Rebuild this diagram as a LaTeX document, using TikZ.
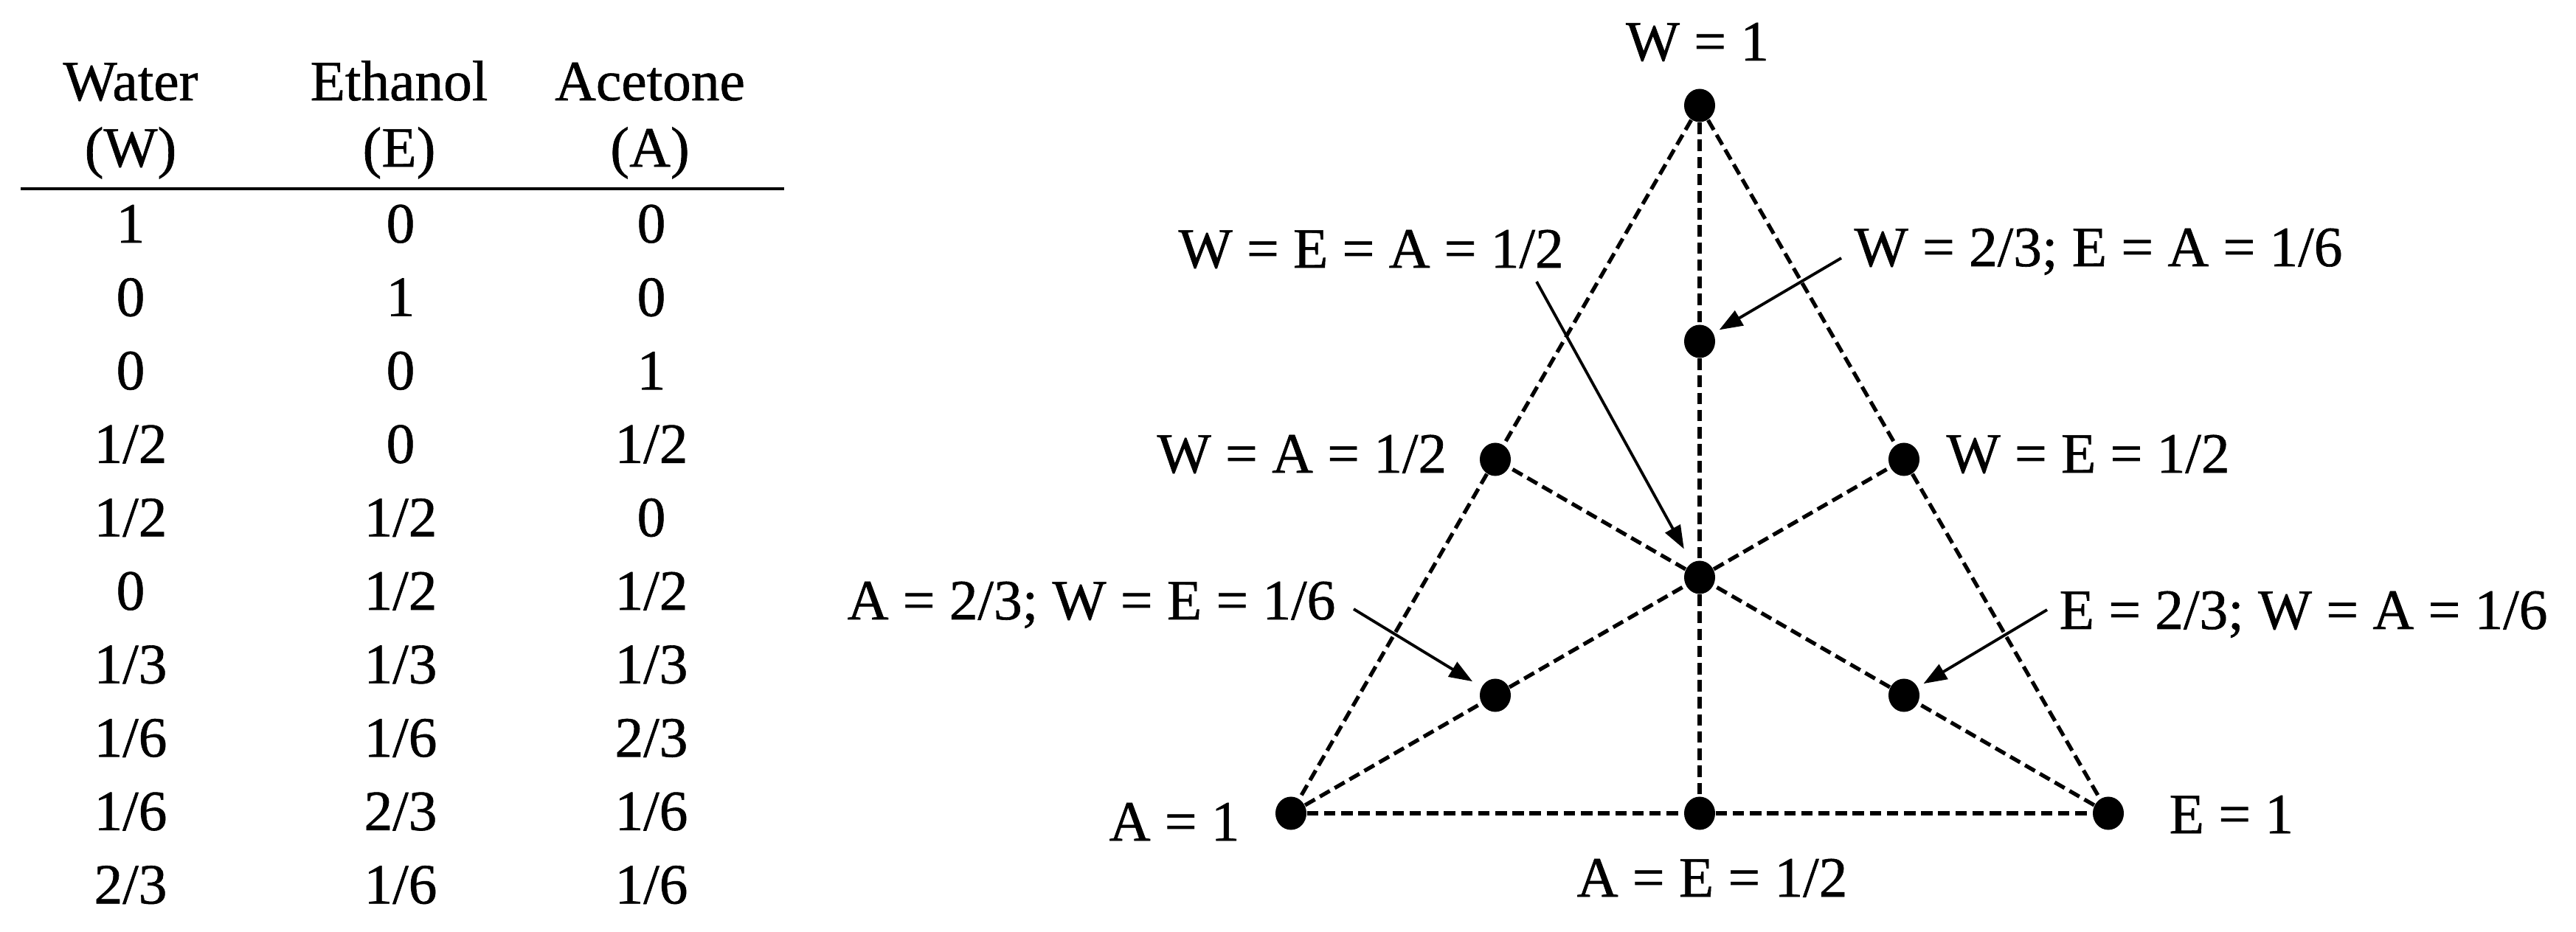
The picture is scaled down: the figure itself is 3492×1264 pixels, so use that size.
\documentclass[tikz,border=0pt]{standalone}
\usepackage{fontspec}
\setmainfont{Liberation Serif}[UprightFeatures={FakeBold=0.8}]
\usetikzlibrary{arrows.meta,shapes.geometric}
\begin{document}
\begin{tikzpicture}[x=0.01cm,y=-0.01cm,
  lbl/.style={font=\fontsize{22}{26}\selectfont, inner sep=0pt},
  dot/.style={ellipse, fill=black, inner sep=0pt, minimum width=0.42cm, minimum height=0.45cm},
  guide/.style={dash pattern=on 4.4pt off 2.2pt, line width=1.5pt},
  pointer/.style={-{Triangle[length=9pt,width=6.5pt]}, line width=1.1pt}]
\fill[white] (0,0) rectangle (3492,1264);
\useasboundingbox (0,0) rectangle (3492,1264);

% ---- table ----
\node[lbl, anchor=base] (h1a) at (177,136) {Water};
\node[lbl, anchor=base] (h1b) at (177,226) {(W)};
\node[lbl, anchor=base] (h2a) at (541,136) {Ethanol};
\node[lbl, anchor=base] (h2b) at (541,226) {(E)};
\node[lbl, anchor=base] (h3a) at (881,136) {Acetone};
\node[lbl, anchor=base] (h3b) at (881,226) {(A)};
\coordinate (ruleL) at (28,256);
\coordinate (ruleR) at (1063,256);
\draw[line width=1.3pt] (ruleL) -- (ruleR);

\node[lbl, anchor=base] (r1a) at (177,329) {1};
\node[lbl, anchor=base] (r1b) at (543,329) {0};
\node[lbl, anchor=base] (r1c) at (883,329) {0};
\node[lbl, anchor=base] (r2a) at (177,428.6) {0};
\node[lbl, anchor=base] (r2b) at (543,428.6) {1};
\node[lbl, anchor=base] (r2c) at (883,428.6) {0};
\node[lbl, anchor=base] (r3a) at (177,528.2) {0};
\node[lbl, anchor=base] (r3b) at (543,528.2) {0};
\node[lbl, anchor=base] (r3c) at (883,528.2) {1};
\node[lbl, anchor=base] (r4a) at (177,627.8) {1/2};
\node[lbl, anchor=base] (r4b) at (543,627.8) {0};
\node[lbl, anchor=base] (r4c) at (883,627.8) {1/2};
\node[lbl, anchor=base] (r5a) at (177,727.4) {1/2};
\node[lbl, anchor=base] (r5b) at (543,727.4) {1/2};
\node[lbl, anchor=base] (r5c) at (883,727.4) {0};
\node[lbl, anchor=base] (r6a) at (177,827) {0};
\node[lbl, anchor=base] (r6b) at (543,827) {1/2};
\node[lbl, anchor=base] (r6c) at (883,827) {1/2};
\node[lbl, anchor=base] (r7a) at (177,926.6) {1/3};
\node[lbl, anchor=base] (r7b) at (543,926.6) {1/3};
\node[lbl, anchor=base] (r7c) at (883,926.6) {1/3};
\node[lbl, anchor=base] (r8a) at (177,1026.2) {1/6};
\node[lbl, anchor=base] (r8b) at (543,1026.2) {1/6};
\node[lbl, anchor=base] (r8c) at (883,1026.2) {2/3};
\node[lbl, anchor=base] (r9a) at (177,1125.8) {1/6};
\node[lbl, anchor=base] (r9b) at (543,1125.8) {2/3};
\node[lbl, anchor=base] (r9c) at (883,1125.8) {1/6};
\node[lbl, anchor=base] (r10a) at (177,1225.4) {2/3};
\node[lbl, anchor=base] (r10b) at (543,1225.4) {1/6};
\node[lbl, anchor=base] (r10c) at (883,1225.4) {1/6};

% ---- triangle points ----
\node[dot] (W)   at (2304,143) {};
\node[dot] (A)   at (1750,1103) {};
\node[dot] (E)   at (2858,1103) {};
\node[dot] (WA)  at (2027,623) {};
\node[dot] (WE)  at (2581,623) {};
\node[dot] (AE)  at (2304,1103) {};
\node[dot] (C)   at (2304,783) {};
\node[dot] (W23) at (2304,463) {};
\node[dot] (A23) at (2027,943) {};
\node[dot] (E23) at (2581,943) {};

% edges
\draw[guide] (W) -- (WA) -- (A);
\draw[guide] (W) -- (WE) -- (E);
\draw[guide] (A) -- (AE) -- (E);
% medians
\draw[guide] (W) -- (W23) -- (C) -- (AE);
\draw[guide] (A) -- (A23) -- (C) -- (WE);
\draw[guide] (E) -- (E23) -- (C) -- (WA);

% ---- labels ----
\node[lbl, anchor=base] (lW) at (2301,82) {W = 1};
\node[lbl, anchor=base west] (lC) at (1597,363) {W = E = A = 1/2};
\node[lbl, anchor=base west] (lW23) at (2513,361) {W = 2/3; E = A = 1/6};
\node[lbl, anchor=base west] (lWA) at (1568,641) {W = A = 1/2};
\node[lbl, anchor=base west] (lWE) at (2638,641) {W = E = 1/2};
\node[lbl, anchor=base east] (lA23) at (1811,840) {A = 2/3; W = E = 1/6};
\node[lbl, anchor=base west] (lE23) at (2791,853) {E = 2/3; W = A = 1/6};
\node[lbl, anchor=base west] (lA) at (1503,1140) {A = 1};
\node[lbl, anchor=base west] (lE) at (2940,1130) {E = 1};
\node[lbl, anchor=base] (lAE) at (2321,1216) {A = E = 1/2};

% ---- pointers ----
\coordinate (sC)   at (2083,382);
\coordinate (sW23) at (2496,350);
\coordinate (sA23) at (1835,826);
\coordinate (sE23) at (2775,827);
\draw[pointer, shorten >=6pt] (sC) -- (C);
\draw[pointer, shorten >=2.5pt] (sW23) -- (W23);
\draw[pointer, shorten >=4pt] (sA23) -- (A23);
\draw[pointer, shorten >=2.5pt] (sE23) -- (E23);
\end{tikzpicture}
\end{document}
